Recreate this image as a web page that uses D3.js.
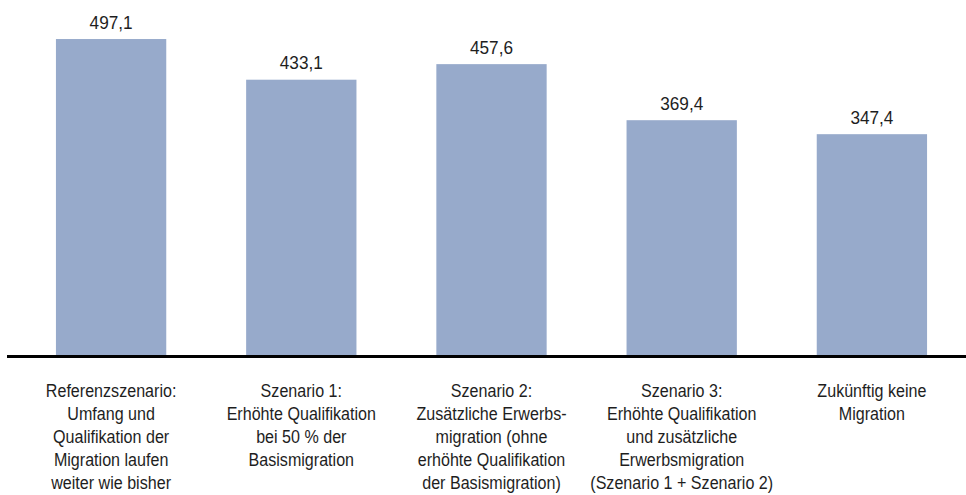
<!DOCTYPE html>
<html lang="de">
<head>
    <meta charset="UTF-8">
    <title>Szenarien</title>
    <script src="https://d3js.org/d3.v7.min.js"></script>
    <style>
        body {
            margin: 0;
            background: #ffffff;
        }
        svg text {
            font-family: "Liberation Sans", Arial, sans-serif;
            font-size: 18.5px;
            fill: #1e1e1e;
        }
    </style>
</head>
<body>
    <div id="chart"></div>
    <script>
        // Kategorien (mehrzeilig) und Werte
        const categories = [
            ["Referenzszenario:", "Umfang und", "Qualifikation der", "Migration laufen", "weiter wie bisher"],
            ["Szenario 1:", "Erhöhte Qualifikation", "bei 50 % der", "Basismigration"],
            ["Szenario 2:", "Zusätzliche Erwerbs-", "migration (ohne", "erhöhte Qualifikation", "der Basismigration)"],
            ["Szenario 3:", "Erhöhte Qualifikation", "und zusätzliche", "Erwerbsmigration", "(Szenario 1 + Szenario 2)"],
            ["Zukünftig keine", "Migration"]
        ];
        const values = [497.1, 433.1, 457.6, 369.4, 347.4];

        const width = 966, height = 495;
        const baseY = 355;

        const svg = d3.select("#chart")
            .append("svg")
            .attr("width", width)
            .attr("height", height);

        const keys = categories.map((c, i) => i);

        const x = d3.scaleBand()
            .domain(keys)
            .range([16, 967])
            .paddingInner(0.42)
            .paddingOuter(0.21);

        const y = d3.scaleLinear()
            .domain([0, 558.5])
            .range([baseY, 0]);

        const cx = i => x(i) + x.bandwidth() / 2;

        // Balken
        svg.selectAll("rect.bar")
            .data(values)
            .enter()
            .append("rect")
            .attr("class", "bar")
            .attr("x", (d, i) => x(i))
            .attr("y", d => y(d))
            .attr("width", x.bandwidth())
            .attr("height", d => y(0) - y(d))
            .style("fill", "#97aacb");

        // Werte über den Balken (schmal gezogen wie die Condensed-Schrift)
        svg.selectAll("text.value")
            .data(values)
            .enter()
            .append("text")
            .attr("class", "value")
            .attr("transform", (d, i) => `translate(${cx(i)},${y(d) - 10.5}) scale(0.93,1)`)
            .attr("text-anchor", "middle")
            .text(d => d3.format(".1f")(d).replace(".", ","));

        // Grundlinie
        svg.append("line")
            .attr("x1", 7)
            .attr("x2", width)
            .attr("y1", y(0) + 1.5)
            .attr("y2", y(0) + 1.5)
            .style("stroke", "#000")
            .style("stroke-width", 3);

        // Achsenbeschriftung
        const labels = svg.selectAll("text.cat")
            .data(categories)
            .enter()
            .append("text")
            .attr("class", "cat")
            .attr("transform", (d, i) => `translate(${cx(i)},0) scale(0.87,1)`)
            .attr("text-anchor", "middle");

        labels.selectAll("tspan")
            .data(d => d)
            .enter()
            .append("tspan")
            .attr("x", 0)
            .attr("y", (d, j) => 397 + j * 23)
            .text(d => d);
    </script>
</body>
</html>
